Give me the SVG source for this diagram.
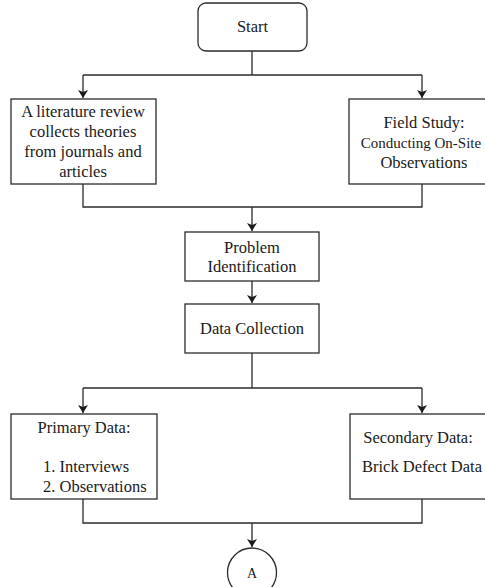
<svg xmlns="http://www.w3.org/2000/svg" width="485" height="587" viewBox="0 0 485 587">
<defs>
<style>
.box{fill:#fff;stroke:#2b2b2b;stroke-width:1.3}
.ln{fill:none;stroke:#2b2b2b;stroke-width:1.3}
.t{font-family:"Liberation Serif","Times New Roman",serif;font-size:16.5px;fill:#1a1a1a;text-anchor:middle}
.tl{text-anchor:start}
</style>
<marker id="ah" markerWidth="10" markerHeight="12" refX="8" refY="5" orient="auto" markerUnits="userSpaceOnUse">
<path d="M0,0 L8,5 L0,10 L2,5 Z" fill="#1a1a1a"/>
</marker>
</defs>
<rect width="485" height="587" fill="#fff"/>
<g id="connectors">
<path class="ln" d="M252,51 V75"/>
<path class="ln" d="M83,75 H422"/>
<path class="ln" d="M83,75 V98" marker-end="url(#ah)"/>
<path class="ln" d="M422,75 V98" marker-end="url(#ah)"/>
<path class="ln" d="M83,184 V207 H422 V184"/>
<path class="ln" d="M252,207 V231" marker-end="url(#ah)"/>
<path class="ln" d="M252,281 V303" marker-end="url(#ah)"/>
<path class="ln" d="M252,353 V388"/>
<path class="ln" d="M83,388 H422"/>
<path class="ln" d="M83,388 V413" marker-end="url(#ah)"/>
<path class="ln" d="M422,388 V413" marker-end="url(#ah)"/>
<path class="ln" d="M83,499 V523 H422 V499"/>
<path class="ln" d="M252,523 V547" marker-end="url(#ah)"/>
</g>
<g id="start">
<rect class="box" x="198" y="3" width="109" height="48" rx="8"/>
<text class="t" x="252.5" y="32">Start</text>
</g>
<g id="literature">
<rect class="box" x="11" y="99" width="145" height="85"/>
<text class="t" x="83" y="117">A literature review</text>
<text class="t" x="83" y="137">collects theories</text>
<text class="t" x="83" y="157">from journals and</text>
<text class="t" x="83" y="177">articles</text>
</g>
<g id="field">
<rect class="box" x="349" y="99" width="146" height="85"/>
<text class="t" x="424" y="128">Field Study:</text>
<text class="t" x="421" y="148" style="font-size:15px">Conducting On-Site</text>
<text class="t" x="424" y="168">Observations</text>
</g>
<g id="problem">
<rect class="box" x="185" y="232" width="134" height="49"/>
<text class="t" x="252" y="253">Problem</text>
<text class="t" x="252" y="272">Identification</text>
</g>
<g id="datacollection">
<rect class="box" x="185" y="304" width="134" height="49"/>
<text class="t" x="252" y="334">Data Collection</text>
</g>
<g id="primary">
<rect class="box" x="11" y="414" width="146" height="85"/>
<text class="t" x="84" y="433">Primary Data:</text>
<text class="t tl" x="43" y="472">1. Interviews</text>
<text class="t tl" x="43" y="492">2. Observations</text>
</g>
<g id="secondary">
<rect class="box" x="350" y="414" width="146" height="85"/>
<text class="t" x="418" y="443">Secondary Data:</text>
<text class="t" x="422" y="472">Brick Defect Data</text>
</g>
<g id="connectorA">
<circle class="box" cx="252" cy="572.5" r="24.5"/>
<text class="t" x="252" y="578" style="font-size:14px">A</text>
</g>
</svg>
